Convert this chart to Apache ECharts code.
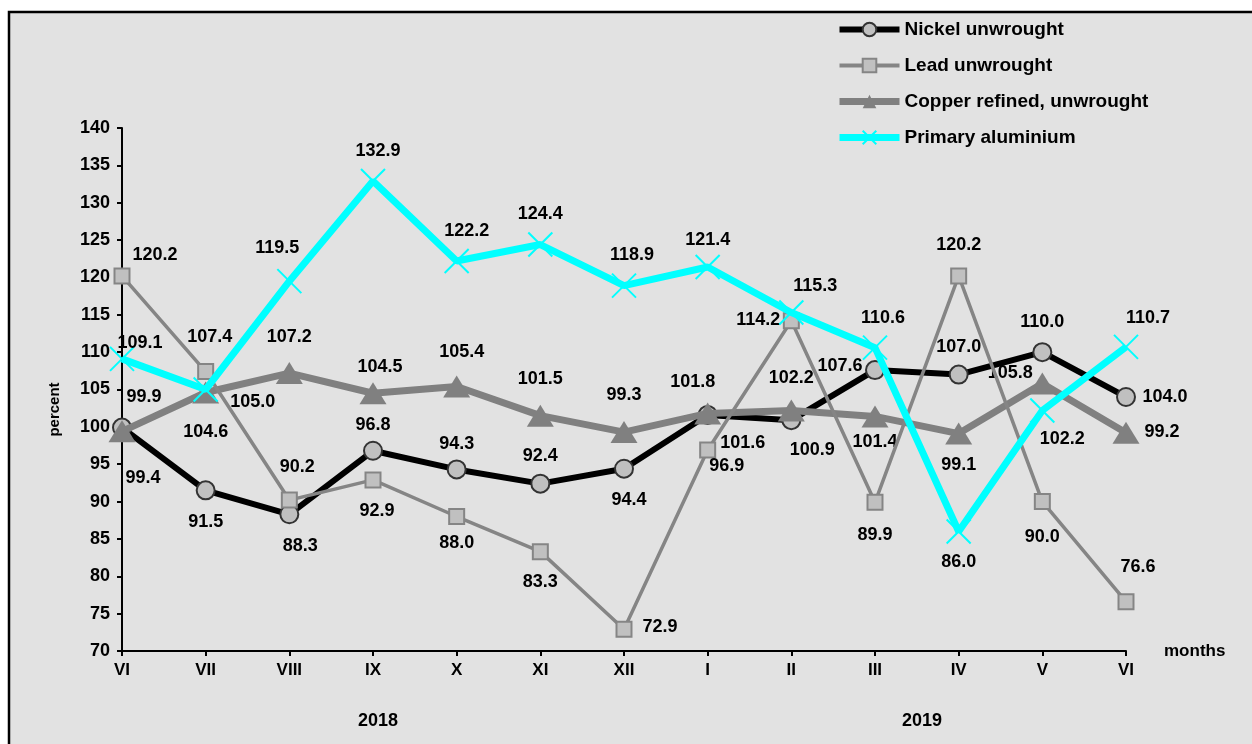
<!DOCTYPE html>
<html>
<head>
<meta charset="utf-8">
<script src="https://cdn.jsdelivr.net/npm/echarts@6/dist/echarts.min.js"></script>
<style>
  html, body { margin: 0; padding: 0; background: #fff; }
  #chart { width: 1252px; height: 744px; }
</style>
</head>
<body>
<div id="chart"></div>
<script>
// months, June 2018 .. June 2019
var months = ['VI', 'VII', 'VIII', 'IX', 'X', 'XI', 'XII', 'I', 'II', 'III', 'IV', 'V', 'VI'];
var years = ['2018', '2019'];

var nickel = [99.9, 91.5, 88.3, 96.8, 94.3, 92.4, 94.4, 101.6, 100.9, 107.6, 107.0, 110.0, 104.0];
var lead = [120.2, 107.4, 90.2, 92.9, 88.0, 83.3, 72.9, 96.9, 114.2, 89.9, 120.2, 90.0, 76.6];
var copper = [99.4, 104.6, 107.2, 104.5, 105.4, 101.5, 99.3, 101.8, 102.2, 101.4, 99.1, 105.8, 99.2];
var aluminium = [109.1, 105.0, 119.5, 132.9, 122.2, 124.4, 118.9, 121.4, 115.3, 110.6, 86.0, 102.2, 110.7];

// where each value label sits, relative to its point (px)
var nickelLbl = [[22,-31],[0,32],[11,32],[0,-26],[0,-25],[0,-28],[5,31],[35,28],[21,30],[-35,-4],[0,-28],[0,-30],[39,0]];
var leadLbl = [[33,-21],[4,-35],[8,-33],[4,31],[0,27],[0,30],[36,-2],[19,16],[-33,-1],[0,33],[0,-31],[0,35],[12,-35]];
var copperLbl = [[21,47],[0,40],[0,-36],[7,-26],[5,-34],[0,-37],[0,-37],[-15,-31],[0,-32],[0,26],[0,31],[-32,-10],[36,-1]];
var aluLbl = [[18,-16],[47,13],[-12,-33],[5,-30],[10,-30],[0,-31],[8,-31],[0,-27],[24,-27],[8,-30],[0,31],[20,29],[22,-29]];

var FONT = '"Liberation Sans", Arial, sans-serif';

function withLabels(vals, offs) {
  return vals.map(function (v, i) {
    return { value: v, label: { offset: offs[i] } };
  });
}

var labelStyle = {
  show: true,
  position: 'inside',
  color: '#000',
  fontFamily: FONT,
  fontWeight: 'bold',
  fontSize: 18,
  formatter: function (p) { return p.value.toFixed(1); }
};

var chart = echarts.init(document.getElementById('chart'), null, { renderer: 'canvas' });

var option = {
  animation: false,
  backgroundColor: '#ffffff',
  textStyle: { fontFamily: FONT },
  graphic: [
    {
      type: 'rect', z: -10,
      shape: { x: 9, y: 12, width: 1300, height: 800 },
      style: { fill: '#e2e2e2', stroke: '#000', lineWidth: 2.5 }
    },
    {
      type: 'text', x: 378, y: 721,
      style: { text: years[0], font: 'bold 18px ' + FONT, fill: '#000', align: 'center', verticalAlign: 'middle' }
    },
    {
      type: 'text', x: 922, y: 721,
      style: { text: years[1], font: 'bold 18px ' + FONT, fill: '#000', align: 'center', verticalAlign: 'middle' }
    }
  ],
  legend: {
    left: 836,
    top: 20,
    padding: 0,
    orient: 'vertical',
    itemWidth: 60,
    itemHeight: 17,
    itemGap: 17,
    textStyle: { fontFamily: FONT, fontWeight: 'bold', fontSize: 19, color: '#000' },
    data: [
      { name: 'Nickel unwrought', lineStyle: { width: 6 } },
      { name: 'Lead unwrought', lineStyle: { width: 4 } },
      { name: 'Copper refined, unwrought', lineStyle: { width: 7 } },
      { name: 'Primary aluminium', lineStyle: { width: 7 } }
    ]
  },
  grid: { left: 122, right: 126, top: 128, bottom: 93 },
  xAxis: {
    type: 'category',
    data: months,
    boundaryGap: false,
    name: 'months',
    nameLocation: 'end',
    nameGap: 38,
    nameTextStyle: { fontFamily: FONT, fontWeight: 'bold', fontSize: 17, color: '#000', padding: [8, 0, 0, 0] },
    axisLine: { lineStyle: { color: '#000', width: 2 } },
    axisTick: { show: true, length: 5, lineStyle: { color: '#000', width: 2 } },
    axisLabel: { margin: 11, color: '#000', fontFamily: FONT, fontWeight: 'bold', fontSize: 17 },
    splitLine: { show: false }
  },
  yAxis: {
    type: 'value',
    min: 70,
    max: 140,
    interval: 5,
    name: 'percent',
    nameLocation: 'middle',
    nameGap: 60,
    nameTextStyle: { fontFamily: FONT, fontWeight: 'bold', fontSize: 15, color: '#000', padding: [0, 0, 0, -40] },
    axisLine: { show: true, lineStyle: { color: '#000', width: 2 } },
    axisTick: { show: true, length: 5, lineStyle: { color: '#000', width: 2 } },
    axisLabel: { margin: 12, color: '#000', fontFamily: FONT, fontWeight: 'bold', fontSize: 18 },
    splitLine: { show: false }
  },
  series: [
    {
      name: 'Nickel unwrought',
      type: 'line',
      z: 2,
      data: withLabels(nickel, nickelLbl),
      symbol: 'circle',
      symbolSize: 18,
      lineStyle: { color: '#000', width: 6 },
      itemStyle: { color: '#c0c0c0', borderColor: '#333', borderWidth: 2 },
      label: labelStyle
    },
    {
      name: 'Copper refined, unwrought',
      type: 'line',
      z: 3,
      data: withLabels(copper, copperLbl),
      symbol: 'triangle',
      symbolSize: [27, 22],
      lineStyle: { color: '#808080', width: 7 },
      itemStyle: { color: '#808080', borderColor: '#808080', borderWidth: 0 },
      label: labelStyle
    },
    {
      name: 'Lead unwrought',
      type: 'line',
      z: 4,
      data: withLabels(lead, leadLbl),
      symbol: 'rect',
      symbolSize: 15,
      lineStyle: { color: '#858585', width: 3.5 },
      itemStyle: { color: '#c0c0c0', borderColor: '#858585', borderWidth: 2 },
      label: labelStyle
    },
    {
      name: 'Primary aluminium',
      type: 'line',
      z: 5,
      data: withLabels(aluminium, aluLbl),
      symbol: 'path://M0,0L10,10M10,0L0,10',
      symbolSize: 24,
      lineStyle: { color: '#00ffff', width: 7 },
      itemStyle: { color: 'none', borderColor: '#00ffff', borderWidth: 2 },
      label: labelStyle
    }
  ]
};

chart.setOption(option);
</script>
</body>
</html>
